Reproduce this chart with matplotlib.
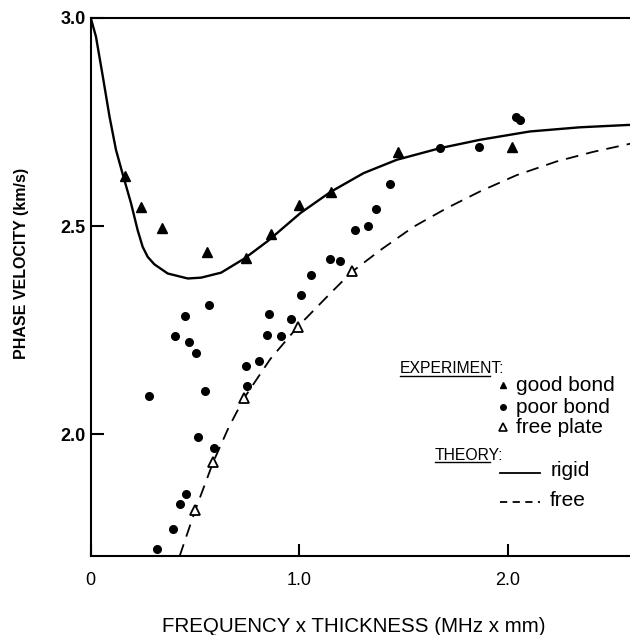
import numpy as np
import matplotlib
matplotlib.use('Agg')
import matplotlib.pyplot as plt
from matplotlib.lines import Line2D

plt.rcParams['font.family'] = ['Liberation Sans', 'DejaVu Sans']

# experiment: good bond (filled triangles)
good_x = [0.163, 0.239, 0.344, 0.555, 0.742, 0.863, 1.0, 1.150, 1.474, 2.020]
good_y = [2.621, 2.545, 2.495, 2.438, 2.423, 2.482, 2.550, 2.581, 2.677, 2.690]

# experiment: poor bond (dots)
poor_x = [0.319, 0.396, 0.427, 0.458, 0.515, 0.593, 0.279, 0.547, 0.403, 0.451,
          0.469, 0.504, 0.566, 0.750, 0.742, 0.809, 0.845, 0.856, 0.911, 0.960,
          1.010, 1.054, 1.145, 1.193, 1.265, 1.330, 1.367, 1.435, 1.676, 1.863,
          2.038, 2.058]
poor_y = [1.724, 1.772, 1.832, 1.856, 1.994, 1.968, 2.091, 2.103, 2.236, 2.284,
          2.222, 2.194, 2.310, 2.115, 2.163, 2.177, 2.238, 2.288, 2.236, 2.276,
          2.335, 2.382, 2.420, 2.416, 2.491, 2.501, 2.540, 2.600, 2.687, 2.690,
          2.761, 2.754]

# experiment: free plate (open triangles)
free_pl_x = [0.502, 0.587, 0.734, 0.992, 1.252]
free_pl_y = [1.819, 1.933, 2.086, 2.258, 2.393]

# theory: rigid (solid)
rigid_x = [0.0, 0.025, 0.058, 0.090, 0.121, 0.153, 0.193, 0.225, 0.249, 0.273,
           0.305, 0.369, 0.465, 0.529, 0.625, 0.737, 0.849, 1.005, 1.150, 1.308,
           1.467, 1.675, 1.866, 2.105, 2.344, 2.590]
rigid_y = [3.0, 2.955, 2.859, 2.763, 2.683, 2.625, 2.555, 2.490, 2.450, 2.426,
           2.408, 2.386, 2.374, 2.376, 2.388, 2.422, 2.464, 2.531, 2.582, 2.627,
           2.659, 2.687, 2.707, 2.727, 2.737, 2.743]

# theory: free (dashed)
free_x = [0.426, 0.502, 0.587, 0.660, 0.734, 0.860, 0.992, 1.148, 1.252, 1.388,
          1.547, 1.707, 1.866, 2.041, 2.233, 2.408, 2.590]
free_y = [1.707, 1.819, 1.933, 2.015, 2.086, 2.180, 2.258, 2.338, 2.390, 2.442,
          2.498, 2.543, 2.583, 2.622, 2.655, 2.678, 2.698]

xticks = [0, 1.0, 2.0]
xtick_labels = ['0', '1.0', '2.0']
yticks = [2.0, 2.5, 3.0]
ytick_labels = ['2.0', '2.5', '3.0']

fig = plt.figure(figsize=(6.3, 6.35), dpi=100)
ax = fig.add_axes([0.144, 0.124, 0.856, 0.848])

ax.plot(rigid_x, rigid_y, 'k-', lw=1.7)
ax.plot(free_x, free_y, 'k', lw=1.3, dashes=(7, 4.5))
ax.plot(good_x, good_y, 'k^', ms=6.5, ls='none')
ax.plot(poor_x, poor_y, 'ko', ms=5.5, ls='none')
ax.plot(free_pl_x, free_pl_y, '^', ms=7, mfc='white', mec='k', mew=1.3, ls='none')

ax.set_xlim(0, 2.585)
ax.set_ylim(1.707, 3.0)
ax.spines['right'].set_visible(False)
for s in ['left', 'bottom', 'top']:
    ax.spines[s].set_linewidth(1.5)

ax.set_xticks(xticks)
ax.set_xticklabels(xtick_labels, fontsize=13)
ax.set_yticks(yticks)
ax.set_yticklabels(ytick_labels, fontsize=13, fontweight='bold')
ax.tick_params(direction='in', length=9, width=1.5)
ax.tick_params(axis='y', pad=3.6)
ax.tick_params(axis='x', pad=11.5)

ax.set_xlabel('FREQUENCY x THICKNESS (MHz x mm)', fontsize=14.8)
ax.xaxis.set_label_coords(0.487, -0.113)
ax.set_ylabel('PHASE VELOCITY (km/s)', fontsize=11.5, fontweight='bold')
ax.yaxis.set_label_coords(-0.115, 0.544)

# legend block
tr = ax.transAxes
ax.text(0.573, 0.349, 'EXPERIMENT:', transform=tr, fontsize=11.3, va='center', ha='left')
ax.add_line(Line2D([0.573, 0.740], [0.334, 0.334], transform=tr, color='k', lw=1))
ax.plot([0.764], [0.318], 'k^', ms=5, transform=tr)
ax.text(0.789, 0.3175, 'good bond', transform=tr, fontsize=15, va='center')
ax.plot([0.764], [0.277], 'ko', ms=4, transform=tr)
ax.text(0.789, 0.2767, 'poor bond', transform=tr, fontsize=15, va='center')
ax.plot([0.764], [0.240], '^', ms=5.5, mfc='white', mec='k', mew=1.2, transform=tr)
ax.text(0.789, 0.2396, 'free plate', transform=tr, fontsize=15, va='center')

ax.text(0.638, 0.1876, 'THEORY:', transform=tr, fontsize=11.3, va='center', ha='left')
ax.add_line(Line2D([0.638, 0.740], [0.1746, 0.1746], transform=tr, color='k', lw=1))
ax.add_line(Line2D([0.759, 0.833], [0.1541, 0.1541], transform=tr, color='k', lw=1.3))
ax.text(0.852, 0.1597, 'rigid', transform=tr, fontsize=15, va='center')
ax.add_line(Line2D([0.759, 0.833], [0.100, 0.100], transform=tr, color='k', lw=1.3,
                   dashes=(4, 3)))
ax.text(0.852, 0.104, 'free', transform=tr, fontsize=15, va='center')

fig.savefig('out.png', dpi=100)
